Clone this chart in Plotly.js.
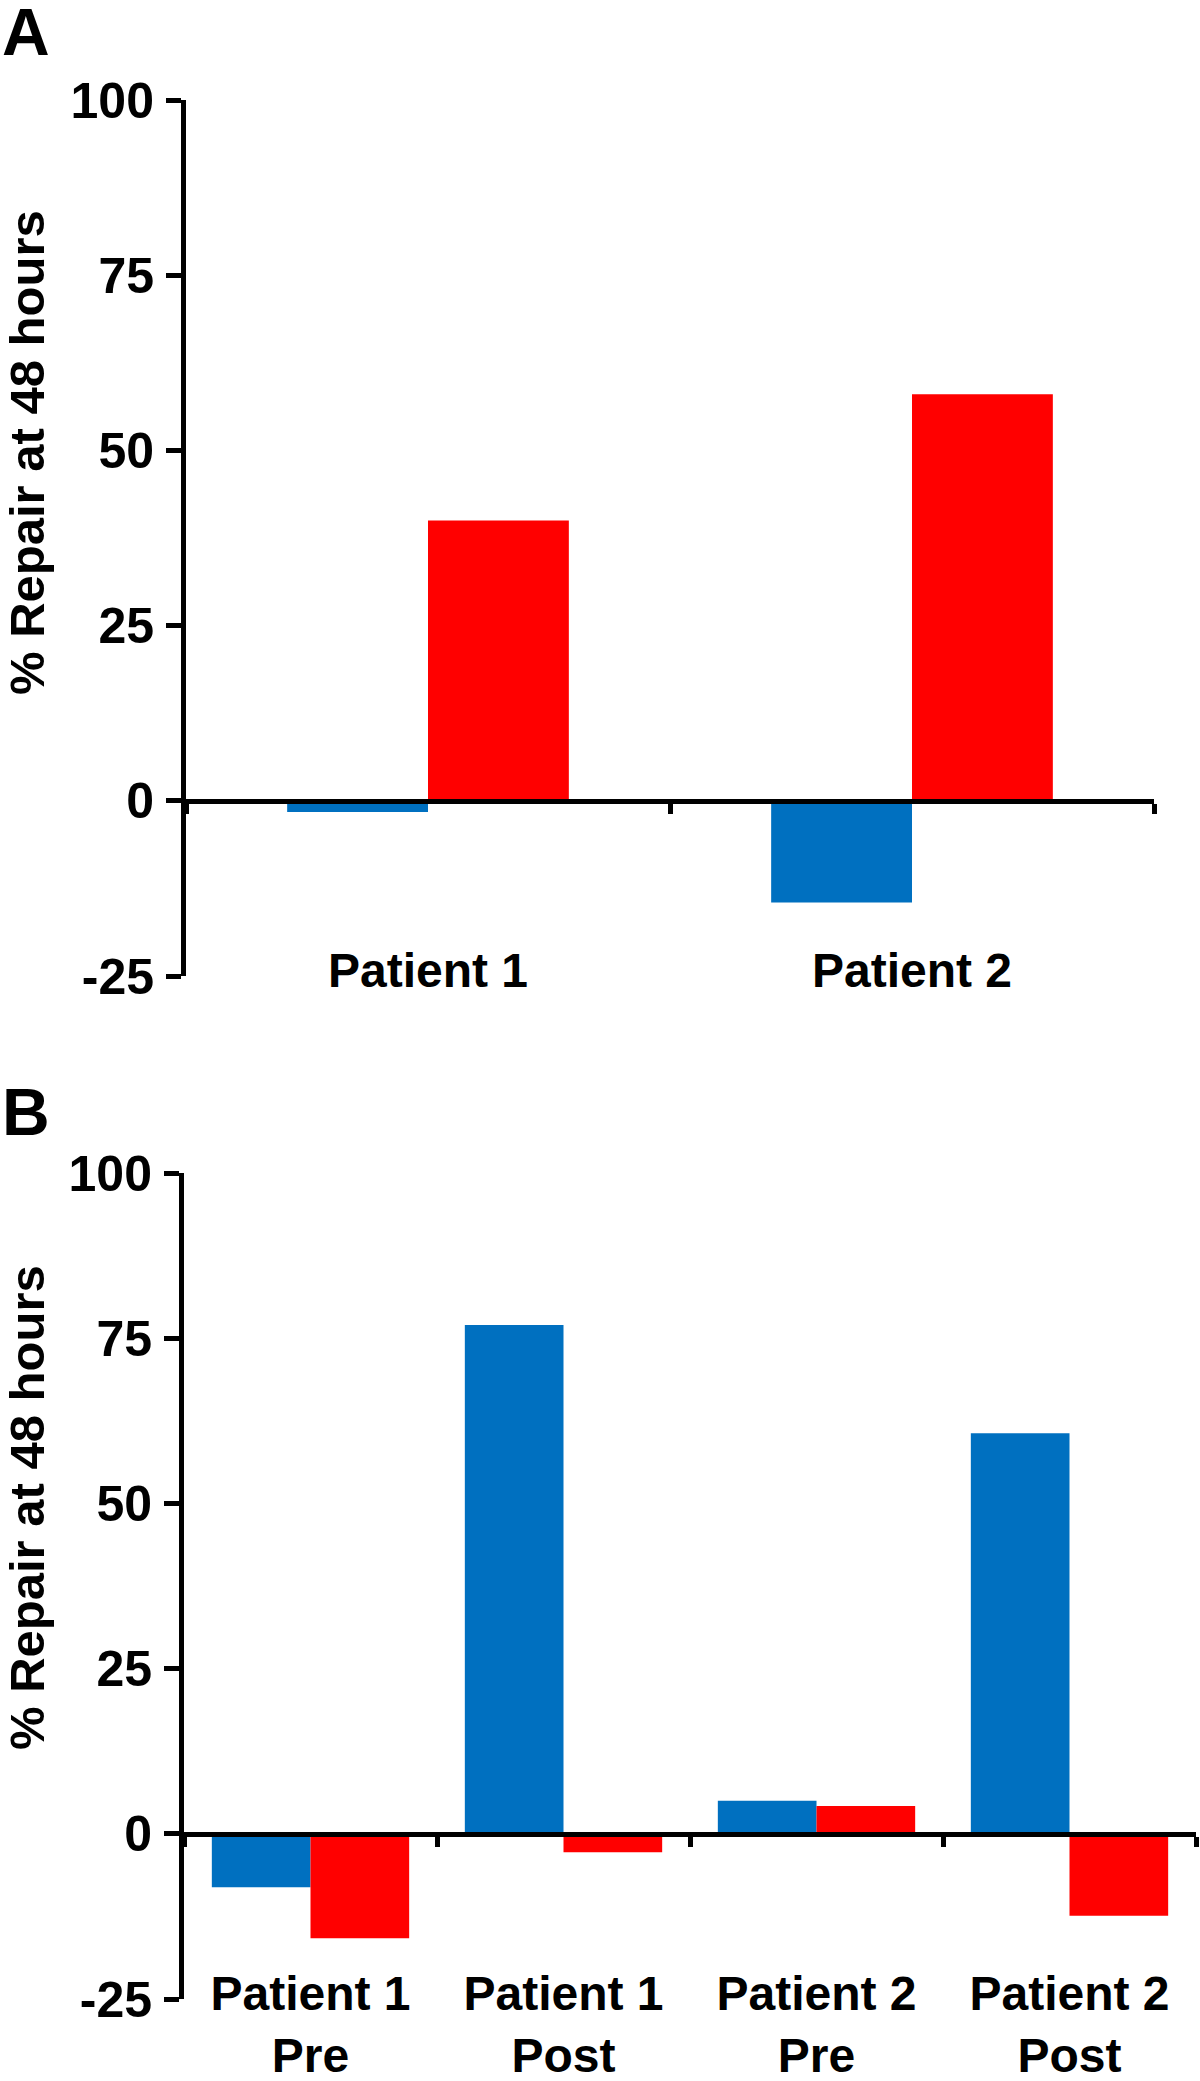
<!DOCTYPE html>
<html>
<head>
<meta charset="utf-8">
<script src="https://cdn.plot.ly/plotly-3.0.1.min.js"></script>
<style>
  html, body { margin: 0; padding: 0; background: #ffffff; }
  #chart { width: 1200px; height: 2081px; }
</style>
</head>
<body>
<div id="chart"></div>
<script>
// panel A
const catsA = ["Patient 1", "Patient 2"];
const blueA = [-1.6, -14.5];
const redA = [40, 58];

// panel B
const catsB = ["Patient 1<br>Pre", "Patient 1<br>Post", "Patient 2<br>Pre", "Patient 2<br>Post"];
const blueB = [-8.1, 77, 5, 60.6];
const redB = [-15.8, -2.8, 4.2, -12.4];

const yTicks = [-25, 0, 25, 50, 75, 100];
const yTitle = "% Repair at 48 hours";

const BLUE = "#0070C0";
const RED = "#FF0000";
const W = 1200, H = 2081;
const FONT = "Liberation Sans, Arial, Helvetica, sans-serif";

const yTickFont = { family: FONT, size: 50, color: "#000", weight: 700 };
const xTickFont = { family: FONT, size: 48, color: "#000", weight: 700 };

// pixel helpers for the layout
const px = x => x / W;
const py = y => 1 - y / H;

const domA = [py(976), py(100)];
const domB = [py(1999), py(1173)];
const yRange = [-25, 100];

// paper position of y=0 inside a y domain
function zeroPos(dom) {
  return dom[0] + (0 - yRange[0]) / (yRange[1] - yRange[0]) * (dom[1] - dom[0]);
}

function barPair(cats, blue, red, xa, ya, w) {
  return [
    { type: "bar", x: cats, y: blue, xaxis: xa, yaxis: ya, width: w, offset: -w,
      marker: { color: BLUE, line: { width: 0 } }, showlegend: false, hoverinfo: "skip" },
    { type: "bar", x: cats, y: red, xaxis: xa, yaxis: ya, width: w, offset: 0,
      marker: { color: RED, line: { width: 0 } }, showlegend: false, hoverinfo: "skip" },
  ];
}

// invisible copy so the category label axis gets drawn
function ghost(cats, vals, xa, ya) {
  return { type: "bar", x: cats, y: vals, xaxis: xa, yaxis: ya, opacity: 0,
    marker: { color: "rgba(0,0,0,0)" }, showlegend: false, hoverinfo: "skip" };
}

const traces = [
  ...barPair(catsA, blueA, redA, "x", "y", 0.291),
  ...barPair(catsB, blueB, redB, "x3", "y2", 0.39),
  ghost(catsA, redA, "x2", "y"),
  ghost(catsB, blueB, "x4", "y2"),
];

function zeroAxis(dom, domY, n) {
  return {
    domain: dom,
    anchor: "free",
    position: zeroPos(domY),
    type: "category",
    range: [-0.5, n - 0.5],
    showline: true, linecolor: "#000", linewidth: 5,
    ticks: "outside", tickson: "boundaries", ticklen: 10, tickwidth: 5, tickcolor: "#000",
    showticklabels: false, showgrid: false, zeroline: false, fixedrange: true,
  };
}

function labelAxis(base, n, pos) {
  return {
    overlaying: base,
    anchor: "free",
    position: pos,
    type: "category",
    range: [-0.5, n - 0.5],
    showline: false, ticks: "", showgrid: false, zeroline: false,
    tickfont: xTickFont, tickangle: 0, fixedrange: true,
  };
}

function valueAxis(dom, xa) {
  return {
    domain: dom,
    anchor: xa,
    range: yRange,
    tickmode: "array",
    tickvals: yTicks,
    ticktext: yTicks.map(String),
    showline: true, linecolor: "#000", linewidth: 5,
    ticks: "outside", ticklen: 15, tickwidth: 5, tickcolor: "#000",
    ticklabelstandoff: 2,
    showgrid: false, zeroline: false,
    tickfont: yTickFont, fixedrange: true,
  };
}

const layout = {
  width: W,
  height: H,
  margin: { l: 0, r: 0, t: 0, b: 0 },
  paper_bgcolor: "#ffffff",
  plot_bgcolor: "rgba(0,0,0,0)",
  barmode: "overlay",
  showlegend: false,
  font: { family: FONT, color: "#000" },
  xaxis: zeroAxis([px(186), px(1154)], domA, catsA.length),
  xaxis2: labelAxis("x", catsA.length, py(938)),
  xaxis3: zeroAxis([px(184), px(1196)], domB, catsB.length),
  xaxis4: labelAxis("x3", catsB.length, py(1961)),
  yaxis: valueAxis(domA, "x"),
  yaxis2: valueAxis(domB, "x3"),
  annotations: [
    { text: "A", xref: "paper", yref: "paper", x: px(0), y: py(32), xanchor: "left", yanchor: "middle",
      showarrow: false, font: { family: FONT, size: 66, weight: 700, color: "#000" } },
    { text: "B", xref: "paper", yref: "paper", x: px(0), y: py(1112), xanchor: "left", yanchor: "middle",
      showarrow: false, font: { family: FONT, size: 66, weight: 700, color: "#000" } },
    { text: yTitle, xref: "paper", yref: "paper", x: px(27), y: py(453), textangle: -90,
      xanchor: "center", yanchor: "middle", showarrow: false,
      font: { family: FONT, size: 49, weight: 700, color: "#000" } },
    { text: yTitle, xref: "paper", yref: "paper", x: px(27), y: py(1508), textangle: -90,
      xanchor: "center", yanchor: "middle", showarrow: false,
      font: { family: FONT, size: 49, weight: 700, color: "#000" } },
  ],
};

Plotly.newPlot("chart", traces, layout, { staticPlot: true, displayModeBar: false });
</script>
</body>
</html>
